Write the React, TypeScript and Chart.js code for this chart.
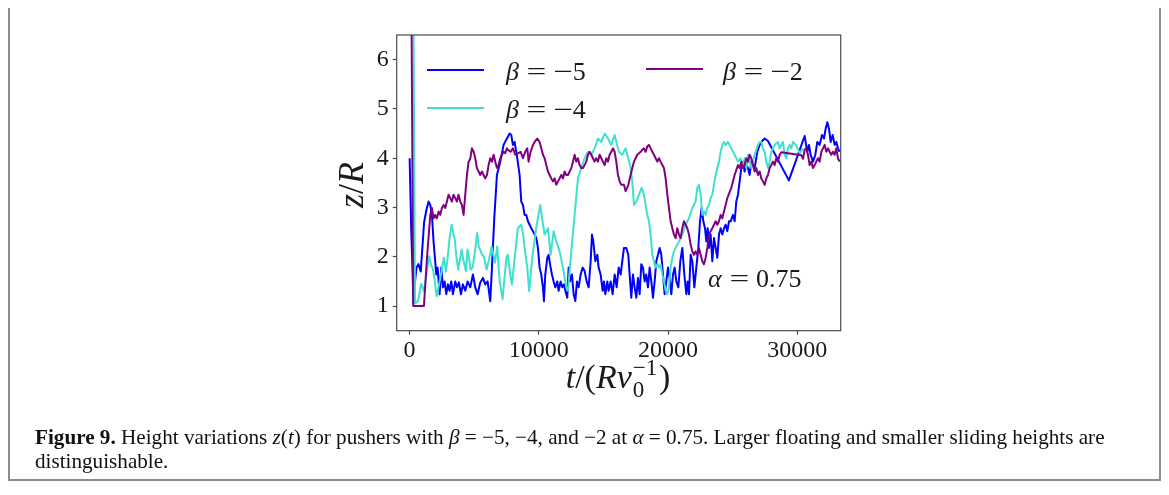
import React, { useEffect, useLayoutEffect, useRef } from "react";
import { Chart, registerables } from "chart.js";

Chart.register(...registerables);

// ---------- data ----------
const xTickValues = [0, 10000, 20000, 30000];
const yTickValues = [1, 2, 3, 4, 5, 6];
const xRange = [-1000, 33360];
const yRange = [0.5, 6.5];
const betaValues = ["−5", "−4", "−2"];
const seriesColors = ["#0000ff", "#40e0d0", "#800080"];
const alphaText = "0.75";

// [t / (R v0^-1), z / R]
const betaMinus5: [number, number][] = [
  [0, 4.0], [120, 2.6], [300, 1.05], [420, 1.5], [530, 1.78], [680, 1.85], [860, 1.7], [1120, 2.7], [1300, 2.95],
  [1467, 3.12], [1600, 3.05], [1725, 2.85], [1855, 2.3], [1983, 1.9], [2060, 1.64], [2165, 1.78], [2320, 1.24],
  [2450, 1.78], [2577, 1.38], [2706, 1.5], [2835, 1.24], [2964, 1.44], [3093, 1.31], [3222, 1.5], [3351, 1.24],
  [3532, 1.5], [3660, 1.38], [3815, 1.48], [3970, 1.24], [4125, 1.44], [4306, 1.31], [4486, 1.5], [4693, 1.38],
  [4899, 1.64], [5080, 1.38], [5261, 1.24], [5467, 1.48], [5673, 1.57], [5854, 1.44], [6035, 1.5], [6241, 1.1],
  [6370, 1.78], [6550, 2.78], [6757, 3.66], [7015, 3.93], [7273, 4.27], [7531, 4.4], [7737, 4.5], [7866, 4.47],
  [7995, 4.27], [8124, 4.33], [8331, 4.0], [8511, 3.66], [8640, 3.12], [8769, 3.05], [8898, 2.85], [9028, 2.85],
  [9157, 2.72], [9286, 2.65], [9415, 2.58], [9544, 2.52], [9673, 2.45], [9802, 2.38], [9931, 2.18], [10060, 1.78],
  [10189, 1.64], [10318, 1.38], [10395, 1.1], [10498, 1.64], [10653, 1.98], [10756, 2.04], [10911, 1.78],
  [11014, 1.64], [11143, 1.5], [11272, 1.38], [11427, 1.5], [11530, 1.31], [11685, 1.5], [11814, 1.38],
  [11943, 1.44], [12047, 1.31], [12202, 1.17], [12305, 1.78], [12408, 1.5], [12563, 1.64], [12692, 1.24],
  [12821, 1.1], [12950, 1.5], [13079, 1.38], [13234, 1.64], [13389, 1.78], [13544, 1.71], [13699, 1.5],
  [13854, 1.38], [14009, 1.91], [14112, 2.45], [14215, 2.31], [14370, 1.91], [14525, 2.04], [14628, 1.78],
  [14783, 1.64], [14938, 1.31], [15041, 1.5], [15144, 1.24], [15299, 1.5], [15403, 1.31], [15557, 1.5],
  [15712, 1.24], [15867, 1.64], [16022, 1.38], [16177, 1.78], [16332, 1.64], [16458, 1.91], [16587, 2.18],
  [16768, 2.18], [16923, 2.04], [17026, 1.64], [17155, 1.17], [17284, 1.64], [17413, 1.38], [17542, 1.17],
  [17671, 1.57], [17800, 1.24], [17929, 1.85], [18058, 1.78], [18187, 1.5], [18316, 1.64], [18445, 1.38],
  [18575, 1.78], [18704, 1.5], [18833, 1.17], [18962, 1.5], [19091, 1.91], [19220, 2.04], [19349, 2.18],
  [19478, 2.04], [19607, 1.64], [19736, 1.24], [19865, 1.5], [19994, 1.78], [20123, 1.57], [20252, 1.24],
  [20381, 1.64], [20510, 1.78], [20639, 1.5], [20794, 1.38], [20949, 1.91], [21104, 2.18], [21258, 1.64],
  [21413, 1.24], [21517, 1.5], [21620, 1.24], [21749, 2.04], [21878, 1.91], [22033, 1.38], [22188, 1.78],
  [22342, 2.18], [22471, 2.72], [22600, 2.99], [22729, 2.72], [22858, 2.58], [22962, 2.31], [23065, 2.58],
  [23168, 2.18], [23297, 2.45], [23426, 1.91], [23555, 2.38], [23684, 2.18], [23813, 1.98], [23942, 2.45],
  [24071, 2.58], [24200, 2.45], [24329, 2.58], [24458, 2.65], [24587, 2.52], [24716, 2.72], [24845, 2.72],
  [25023, 2.85], [25152, 2.72], [25281, 3.12], [25410, 3.26], [25539, 3.53], [25668, 3.8], [25797, 3.93],
  [25926, 3.73], [26055, 3.86], [26184, 3.8], [26313, 3.66], [26442, 3.93], [26700, 3.8], [26907, 4.13],
  [27088, 4.27], [27216, 4.33], [27474, 4.4], [27732, 4.35], [29350, 3.55], [30570, 4.45], [30776, 4.13],
  [30905, 4.27], [31034, 4.07], [31215, 3.93], [31396, 4.07], [31550, 4.33], [31731, 4.27], [31912, 4.47],
  [32067, 4.4], [32196, 4.6], [32325, 4.73], [32454, 4.6], [32583, 4.33], [32738, 4.47], [32892, 4.27],
  [33022, 4.33], [33150, 4.2], [33279, 4.13],
];

const betaMinus4: [number, number][] = [
  [232, 10], [420, 1.05], [650, 1.1], [900, 1.45], [1100, 1.3], [1260, 1.55], [1400, 1.85], [1517, 2.01],
  [1650, 1.85], [1800, 1.75], [1950, 1.5], [2090, 1.2], [2250, 1.4], [2400, 1.6], [2550, 1.85], [2655, 1.98],
  [2800, 1.7], [2950, 2.0], [3100, 2.4], [3250, 2.65], [3400, 2.45], [3500, 2.35], [3620, 2.0], [3760, 1.74],
  [3900, 1.95], [4024, 2.15], [4150, 1.95], [4357, 1.71], [4480, 2.15], [4600, 1.95], [4720, 1.74], [4880, 1.78],
  [5050, 2.1], [5232, 2.48], [5350, 2.2], [5450, 2.15], [5600, 2.05], [5750, 2.0], [5960, 1.74], [6150, 1.95],
  [6346, 2.21], [6470, 2.05], [6600, 1.88], [6780, 2.21], [6880, 1.8], [6990, 1.47], [7197, 1.14], [7350, 1.6],
  [7500, 2.0], [7608, 2.04], [7800, 1.6], [7918, 1.44], [8100, 1.9], [8382, 2.58], [8640, 2.65], [8760, 2.5],
  [8898, 2.18], [9105, 1.78], [9250, 1.3], [9500, 2.0], [9800, 2.6], [10111, 3.05], [10300, 2.7], [10447, 2.45],
  [10704, 2.58], [10911, 2.04], [11143, 2.52], [11350, 2.31], [11608, 2.11], [11866, 1.78], [12124, 1.38],
  [12250, 1.31], [12510, 2.11], [12768, 2.85], [13026, 3.59], [13284, 3.8], [13541, 4.0], [13800, 4.13],
  [14060, 4.07], [14315, 4.2], [14573, 4.4], [14830, 4.33], [15097, 4.5], [15348, 4.4], [15606, 4.27],
  [15864, 4.47], [16122, 4.2], [16200, 4.13], [16458, 4.07], [16716, 4.2], [16923, 4.0], [17103, 3.8],
  [17232, 3.53], [17361, 3.05], [17542, 3.12], [17748, 3.26], [17955, 3.4], [18135, 3.26], [18264, 3.05],
  [18393, 2.85], [18522, 2.72], [18651, 2.45], [18780, 2.04], [18909, 1.91], [19038, 1.78], [19167, 1.85],
  [19296, 1.78], [19425, 1.85], [19555, 1.64], [19684, 1.5], [19813, 1.31], [19942, 1.24], [20070, 1.38],
  [20200, 1.78], [20328, 1.98], [20456, 2.11], [20585, 2.18], [20843, 2.31], [21100, 2.45], [21360, 2.65],
  [21618, 2.78], [21876, 2.99], [22134, 3.12], [22263, 3.4], [22392, 3.46], [22521, 3.26], [22650, 2.85],
  [22779, 2.92], [22908, 2.85], [23037, 2.99], [23166, 3.05], [23295, 3.19], [23424, 3.26], [23553, 3.46],
  [23682, 3.66], [23811, 3.8], [23940, 3.93], [24069, 4.13], [24200, 4.27], [24329, 4.33], [24458, 4.27],
  [24636, 4.33], [24894, 4.2], [25152, 4.07], [25410, 3.93], [25616, 4.0], [25797, 3.86], [25926, 4.0],
  [26055, 3.8], [26184, 4.07], [26313, 3.93], [26442, 3.8], [26700, 4.07], [26958, 4.27], [27088, 4.33],
  [27216, 4.33], [27345, 4.2], [27474, 4.13], [27603, 3.93], [27732, 3.8], [27861, 3.93], [27990, 4.13],
  [28248, 4.27], [28506, 4.33], [28635, 4.2], [28764, 4.27], [28893, 4.33], [29022, 4.07], [29151, 4.0],
  [29280, 4.2], [29409, 4.27], [29538, 4.2], [29667, 4.33], [29925, 4.25], [30200, 4.1], [30450, 4.2],
];

const betaMinus2: [number, number][] = [
  [77, 10], [280, 1.0], [1107, 1.0], [1350, 2.0], [1600, 2.85], [1725, 2.99], [1855, 2.78], [1983, 2.85],
  [2112, 2.78], [2241, 2.92], [2370, 2.85], [2499, 2.99], [2628, 3.05], [2757, 2.99], [2886, 3.12], [3015, 3.26],
  [3144, 3.19], [3273, 3.12], [3402, 3.26], [3531, 3.19], [3660, 3.12], [3789, 3.26], [3918, 3.12], [4048, 3.05],
  [4177, 2.85], [4306, 3.26], [4435, 3.66], [4564, 3.93], [4693, 3.99], [4822, 4.2], [4951, 4.13], [5080, 4.0],
  [5209, 3.8], [5338, 3.73], [5467, 3.66], [5596, 3.73], [5725, 3.66], [5854, 3.59], [5983, 3.66], [6112, 3.86],
  [6241, 4.0], [6370, 3.93], [6499, 4.07], [6628, 3.93], [6757, 3.8], [6886, 3.86], [7015, 4.0], [7144, 4.07],
  [7273, 4.13], [7400, 4.1], [7531, 4.2], [7608, 4.17], [7815, 4.13], [7995, 4.2], [8176, 4.07], [8382, 4.1],
  [8589, 4.13], [8769, 4.0], [8950, 4.13], [9105, 4.2], [9208, 3.93], [9363, 4.13], [9544, 4.27], [9673, 4.33],
  [9880, 4.4], [10060, 4.33], [10189, 4.2], [10318, 4.07], [10447, 4.0], [10576, 3.86], [10704, 3.73],
  [10833, 3.66], [10962, 3.59], [11091, 3.53], [11220, 3.59], [11350, 3.46], [11479, 3.53], [11608, 3.59],
  [11737, 3.66], [11866, 3.59], [11995, 3.73], [12124, 3.66], [12253, 3.66], [12382, 3.73], [12511, 3.8],
  [12640, 3.93], [12768, 4.07], [12897, 3.93], [13026, 4.0], [13155, 3.86], [13284, 3.8], [13413, 3.8],
  [13542, 3.86], [13671, 3.93], [13800, 4.07], [13929, 4.13], [14058, 4.07], [14187, 4.0], [14316, 3.93],
  [14445, 4.0], [14574, 3.93], [14703, 4.07], [14832, 4.0], [14961, 3.93], [15090, 3.86], [15219, 4.0],
  [15348, 3.93], [15477, 4.07], [15606, 4.13], [15735, 4.2], [15864, 4.13], [15993, 3.93], [16122, 3.66],
  [16251, 3.53], [16380, 3.46], [16587, 3.46], [16716, 3.33], [16923, 3.46], [17103, 3.66], [17232, 3.8],
  [17361, 3.93], [17490, 4.0], [17619, 4.07], [17748, 4.1], [17877, 4.13], [18006, 4.17], [18135, 4.2],
  [18264, 4.13], [18393, 4.24], [18522, 4.27], [18651, 4.2], [18780, 4.13], [18909, 4.07], [19038, 4.0],
  [19167, 3.93], [19296, 4.0], [19425, 3.93], [19555, 3.86], [19684, 3.8], [19813, 3.59], [19942, 3.26],
  [20070, 2.99], [20199, 2.72], [20328, 2.58], [20456, 2.45], [20585, 2.38], [20714, 2.58], [20843, 2.45],
  [20972, 2.38], [21101, 2.58], [21230, 2.72], [21360, 2.65], [21489, 2.58], [21618, 2.45], [21747, 2.25],
  [21876, 2.11], [22005, 2.04], [22134, 2.11], [22263, 2.04], [22392, 2.18], [22521, 2.04], [22650, 1.91],
  [22779, 1.85], [22908, 1.98], [23037, 2.18], [23166, 2.45], [23295, 2.52], [23424, 2.58], [23553, 2.65],
  [23682, 2.72], [23811, 2.65], [23940, 2.72], [24069, 2.85], [24198, 2.78], [24327, 2.92], [24456, 3.05],
  [24585, 3.19], [24894, 3.4], [25152, 3.66], [25410, 3.86], [25539, 3.8], [25668, 3.93], [25797, 3.8],
  [25926, 3.86], [26055, 4.0], [26184, 3.93], [26313, 4.07], [26442, 4.0], [26571, 3.86], [26700, 3.73],
  [26829, 3.8], [26958, 3.66], [27087, 3.73], [27216, 3.59], [27345, 3.53], [27474, 3.46], [27603, 3.59],
  [27732, 3.66], [27861, 3.8], [27990, 3.86], [28119, 3.93], [28248, 3.86], [28377, 4.0], [28506, 3.93],
  [28635, 4.07], [28764, 4.12], [30312, 4.06], [30441, 3.99], [30570, 4.17], [30699, 4.2], [30828, 4.07],
  [30957, 3.86], [31086, 3.93], [31215, 3.8], [31344, 3.86], [31473, 3.93], [31602, 4.0], [31731, 3.93],
  [31860, 4.13], [31989, 4.2], [32118, 4.27], [32247, 4.13], [32376, 4.2], [32505, 4.13], [32634, 4.07],
  [32763, 4.13], [32892, 4.07], [33021, 4.2], [33150, 4.0], [33279, 3.93],
];

const SERIF = '"Liberation Serif", "Times New Roman", serif';

// math operator, widened to resemble the Computer Modern glyph
const Op = ({ ch, l, r }: { ch: string; l: number; r: number }) => (
  <span style={{ display: "inline-block", transform: "scaleX(1.35)", margin: `0 ${r}em 0 ${l}em` }}>{ch}</span>
);

const BetaLabel = ({ v }: { v: string }) => (
  <span>
    <i>β</i>
    <Op ch="=" l={0.38} r={0.38} />
    <Op ch="−" l={0.1} r={0.08} />
    {v.replace("−", "")}
  </span>
);

export default function App() {
  const canvasRef = useRef<HTMLCanvasElement>(null);
  const capBoxRef = useRef<HTMLDivElement>(null);
  const capLineRef = useRef<HTMLSpanElement>(null);

  useEffect(() => {
    const canvas = canvasRef.current;
    if (!canvas) return;
    const framePlugin = {
      id: "frame",
      afterDatasetsDraw(chart: any) {
        const { ctx, chartArea: a } = chart;
        ctx.save();
        ctx.strokeStyle = "#4a4a4a";
        ctx.lineWidth = 1.2;
        ctx.strokeRect(a.left, a.top, a.right - a.left, a.bottom - a.top);
        ctx.restore();
      },
    };
    const series = [betaMinus5, betaMinus4, betaMinus2];
    const tickFont = { family: SERIF, size: 24 };
    const chart = new Chart(canvas, {
      type: "line",
      data: {
        datasets: series.map((s, i) => ({
          label: "β = " + betaValues[i],
          data: s.map(([x, y]) => ({ x, y })),
          borderColor: seriesColors[i],
          backgroundColor: seriesColors[i],
          borderWidth: 2,
          pointRadius: 0,
          tension: 0,
          fill: false,
          borderJoinStyle: "round" as const,
          order: 2 - i,
        })),
      },
      options: {
        animation: false,
        responsive: false,
        maintainAspectRatio: false,
        devicePixelRatio: 1,
        layout: { padding: { left: 328.7, right: 320.3, top: 27, bottom: 47.3 } },
        plugins: { legend: { display: false }, tooltip: { enabled: false } },
        events: [],
        scales: {
          x: {
            type: "linear",
            min: xRange[0],
            max: xRange[1],
            afterBuildTicks: (s: any) => {
              s.ticks = xTickValues.map((value) => ({ value }));
            },
            afterFit: (s: any) => {
              s.height = 50;
            },
            border: { display: false },
            grid: { drawOnChartArea: false, drawTicks: true, tickLength: 4, tickColor: "#4a4a4a", tickWidth: 1.2 },
            ticks: {
              font: tickFont,
              color: "#1a1a1a",
              padding: 2,
              maxRotation: 0,
              autoSkip: false,
              callback: (v: any) => String(v),
            },
          },
          y: {
            type: "linear",
            min: yRange[0],
            max: yRange[1],
            afterBuildTicks: (s: any) => {
              s.ticks = yTickValues.map((value) => ({ value }));
            },
            afterFit: (s: any) => {
              s.width = 60;
            },
            border: { display: false },
            grid: { drawOnChartArea: false, drawTicks: true, tickLength: 4, tickColor: "#4a4a4a", tickWidth: 1.2 },
            ticks: {
              font: tickFont,
              color: "#1a1a1a",
              padding: 4,
              autoSkip: false,
              callback: (v: any) => String(v),
            },
          },
        },
      },
      plugins: [framePlugin],
    } as any);
    return () => chart.destroy();
  }, []);

  useLayoutEffect(() => {
    const line = capLineRef.current;
    const box = capBoxRef.current;
    if (line && box && line.offsetWidth > 0) {
      box.style.transform = `scaleX(${1070 / line.offsetWidth})`;
    }
  }, []);

  const legendRow = (i: number, lineLeft: number, textLeft: number, lineTop: number, textTop: number) => (
    <React.Fragment key={i}>
      <div
        style={{ position: "absolute", left: lineLeft, top: lineTop, width: 57, height: 2, background: seriesColors[i] }}
      />
      <div
        style={{
          position: "absolute",
          left: textLeft,
          top: textTop,
          font: `26px ${SERIF}`,
          lineHeight: 1,
          color: "#1a1a1a",
          whiteSpace: "nowrap",
        }}
      >
        <BetaLabel v={betaValues[i]} />
      </div>
    </React.Fragment>
  );

  return (
    <div style={{ position: "relative", width: 1153, height: 474, fontFamily: SERIF }}>
      <div
        style={{
          position: "absolute",
          left: 0,
          top: -2,
          width: 1153,
          height: 475,
          border: "2px solid #8c8c8c",
          boxSizing: "border-box",
        }}
      />
      <canvas ref={canvasRef} width={1153} height={420} style={{ position: "absolute", left: 0, top: 0 }} />

      {legendRow(0, 419, 498, 61, 51)}
      {legendRow(1, 419, 498, 98.7, 88.7)}
      {legendRow(2, 637.7, 715, 60.3, 51)}

      <div
        style={{
          position: "absolute",
          left: 700,
          top: 257.5,
          font: `26px ${SERIF}`,
          lineHeight: 1,
          color: "#1a1a1a",
          whiteSpace: "nowrap",
        }}
      >
        <i>α</i>
        <Op ch="=" l={0.38} r={0.38} />
        {alphaText}
      </div>

      {/* y axis title */}
      <div
        style={{
          position: "absolute",
          left: 343,
          top: 177,
          transform: "translate(-50%, -50%) rotate(-90deg)",
          font: `36px ${SERIF}`,
          lineHeight: 1,
          color: "#1a1a1a",
          whiteSpace: "nowrap",
        }}
      >
        <i>z</i>/<i>R</i>
      </div>

      {/* x axis title */}
      <div
        style={{
          position: "absolute",
          left: 610,
          top: 351.8,
          transform: "translateX(-50%)",
          font: `34px ${SERIF}`,
          lineHeight: 1,
          color: "#1a1a1a",
          whiteSpace: "nowrap",
        }}
      >
        <i>t</i>/(<i>R</i>
        <i>v</i>
        <span style={{ display: "inline-block", position: "relative", width: "0.8em", height: 0 }}>
          <span style={{ position: "absolute", left: 1, top: -32, fontSize: 23, lineHeight: 1 }}>−1</span>
          <span style={{ position: "absolute", left: 1, top: -10, fontSize: 23, lineHeight: 1 }}>0</span>
        </span>
        )
      </div>

      {/* caption */}
      <div
        ref={capBoxRef}
        style={{
          position: "absolute",
          left: 27,
          top: 417,
          font: `21px ${SERIF}`,
          lineHeight: "24px",
          color: "#111",
          whiteSpace: "nowrap",
          transformOrigin: "left top",
        }}
      >
        <span ref={capLineRef}>
          <b>Figure 9.</b> Height variations <i>z</i>(<i>t</i>) for pushers with <i>β</i> = −5, −4, and −2 at{" "}
          <i>α</i> = 0.75. Larger floating and smaller sliding heights are
        </span>
        <br />
        <span>distinguishable.</span>
      </div>
    </div>
  );
}
